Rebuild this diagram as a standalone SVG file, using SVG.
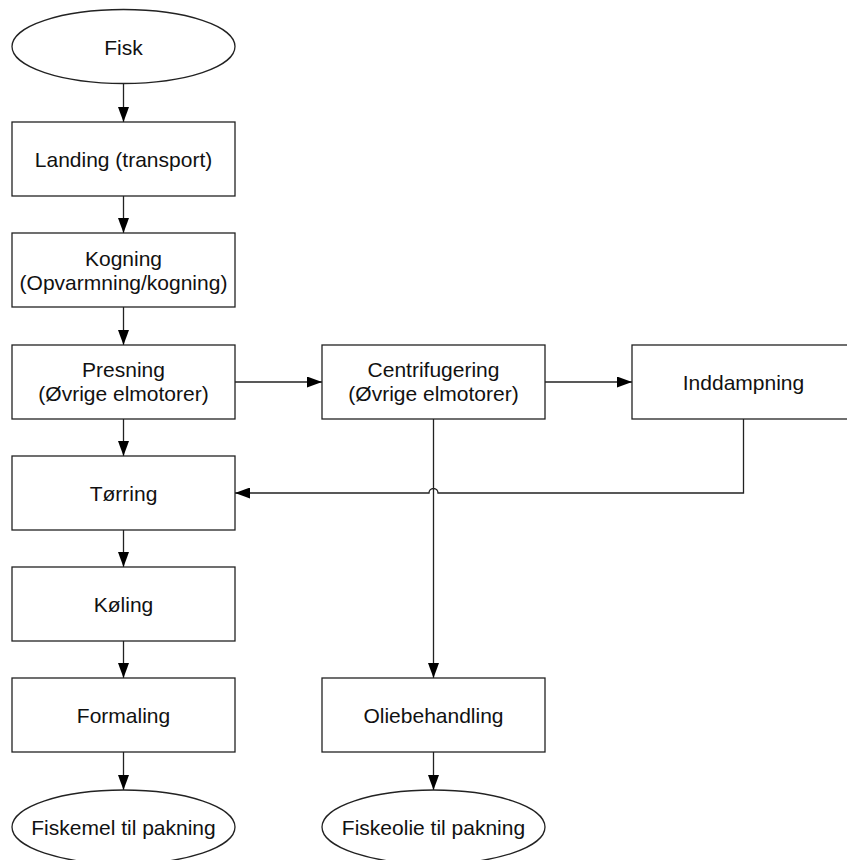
<svg xmlns="http://www.w3.org/2000/svg" width="847" height="860" viewBox="0 0 847 860">
  <style>
    .box { fill: #ffffff; stroke: #222222; stroke-width: 1.3; }
    .lbl { font-family: "Liberation Sans", Arial, sans-serif; font-size: 21px; fill: #111111; text-anchor: middle; }
    .edge { fill: none; stroke: #222222; stroke-width: 1.3; }
  </style>
  <defs>
    <marker id="arrow" markerUnits="userSpaceOnUse" markerWidth="15" markerHeight="11" refX="15" refY="5.5" orient="auto">
      <path d="M0,0 L15,5.5 L0,11 Z" fill="#000000"/>
    </marker>
  </defs>
  <rect width="847" height="860" fill="#ffffff"/>

  <!-- connectors -->
  <g id="connectors">
    <path class="edge" d="M123.5,84 V122" marker-end="url(#arrow)"/>
    <path class="edge" d="M123.5,196 V233" marker-end="url(#arrow)"/>
    <path class="edge" d="M123.5,307 V345" marker-end="url(#arrow)"/>
    <path class="edge" d="M123.5,419 V456" marker-end="url(#arrow)"/>
    <path class="edge" d="M123.5,530 V567" marker-end="url(#arrow)"/>
    <path class="edge" d="M123.5,641 V678" marker-end="url(#arrow)"/>
    <path class="edge" d="M123.5,752 V790" marker-end="url(#arrow)"/>
    <path class="edge" d="M235,382 H322" marker-end="url(#arrow)"/>
    <path class="edge" d="M545,382 H632" marker-end="url(#arrow)"/>
    <path class="edge" d="M433.5,419 V678" marker-end="url(#arrow)"/>
    <path class="edge" d="M743.5,419 V493 H438 A4.5,4.5 0 0 0 429,493 H235" marker-end="url(#arrow)"/>
    <path class="edge" d="M433.5,752 V790" marker-end="url(#arrow)"/>
  </g>

  <!-- nodes -->
  <g id="fisk">
    <ellipse class="box" cx="123.5" cy="46.5" rx="111.5" ry="37"/>
    <text class="lbl" x="123.5" y="55">Fisk</text>
  </g>
  <g id="landing">
    <rect class="box" x="12" y="122" width="223" height="74"/>
    <text class="lbl" x="123.5" y="167">Landing (transport)</text>
  </g>
  <g id="kogning">
    <rect class="box" x="12" y="233" width="223" height="74"/>
    <text class="lbl" x="123.5" y="266">Kogning</text>
    <text class="lbl" x="123.5" y="290">(Opvarmning/kogning)</text>
  </g>
  <g id="presning">
    <rect class="box" x="12" y="345" width="223" height="74"/>
    <text class="lbl" x="123.5" y="377">Presning</text>
    <text class="lbl" x="123.5" y="401">(Øvrige elmotorer)</text>
  </g>
  <g id="centrifugering">
    <rect class="box" x="322" y="345" width="223" height="74"/>
    <text class="lbl" x="433.5" y="377">Centrifugering</text>
    <text class="lbl" x="433.5" y="401">(Øvrige elmotorer)</text>
  </g>
  <g id="inddampning">
    <rect class="box" x="632" y="345" width="223" height="74"/>
    <text class="lbl" x="743.5" y="390">Inddampning</text>
  </g>
  <g id="torring">
    <rect class="box" x="12" y="456" width="223" height="74"/>
    <text class="lbl" x="123.5" y="501">Tørring</text>
  </g>
  <g id="koling">
    <rect class="box" x="12" y="567" width="223" height="74"/>
    <text class="lbl" x="123.5" y="612">Køling</text>
  </g>
  <g id="formaling">
    <rect class="box" x="12" y="678" width="223" height="74"/>
    <text class="lbl" x="123.5" y="723">Formaling</text>
  </g>
  <g id="oliebehandling">
    <rect class="box" x="322" y="678" width="223" height="74"/>
    <text class="lbl" x="433.5" y="723">Oliebehandling</text>
  </g>
  <g id="fiskemel">
    <ellipse class="box" cx="123.5" cy="827" rx="111.5" ry="37"/>
    <text class="lbl" x="123.5" y="835">Fiskemel til pakning</text>
  </g>
  <g id="fiskeolie">
    <ellipse class="box" cx="433.5" cy="827" rx="111.5" ry="37"/>
    <text class="lbl" x="433.5" y="835">Fiskeolie til pakning</text>
  </g>
</svg>
